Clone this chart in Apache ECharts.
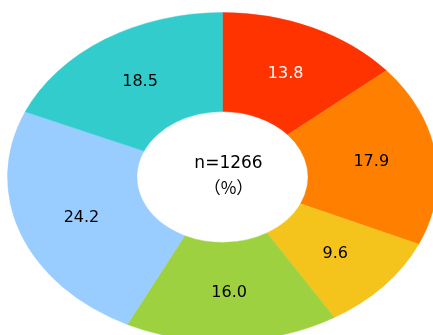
<!DOCTYPE html>
<html>
<head>
    <meta charset="UTF-8">
    <title></title>
    <script type="text/javascript" src="https://cdn.jsdelivr.net/npm/echarts@6/dist/echarts.min.js"></script>
    <style type="text/css">
        html, body { margin: 0; padding: 0; background: #fff; }
        #donut_chart { width: 433px; height: 335px; }
    </style>
</head>
<body>
<div id="donut_chart"></div>

<script type="text/javascript">
    // 回答の割合 (%)
    var categories = ['A', 'B', 'C', 'D', 'E', 'F'];
    var values = [13.8, 17.9, 9.6, 16.0, 24.2, 18.5];
    var colors = ['#FF3300', '#FF8000', '#F5C41C', '#9DD13F', '#99CCFF', '#33CCCC'];
    var labelColors = ['#fff', '#000', '#000', '#000', '#000', '#000'];
    var centerLines = ['n=1266', '（%）'];

    var total = 0;
    for (var i = 0; i < values.length; i++) total += values[i];

    var cx = 222.5, cy = 177;       // 楕円の中心
    var rOuter = 215, rInner = 85.5; // 横方向の半径
    var squash = 0.765;              // 縦横比
    var font = '16px "DejaVu Sans", "Noto Sans CJK JP", sans-serif';
    var centerFonts = [
        '17px "DejaVu Sans", "Noto Sans CJK JP", sans-serif',
        '17px "Noto Sans CJK TC", "Noto Sans CJK JP", sans-serif'
    ];

    var chart = echarts.init(document.getElementById('donut_chart'));

    chart.setOption({
        animation: false,
        graphic: [{
            type: 'group',
            z: 100,
            children: centerLines.map(function (t, k) {
                return {
                    type: 'text',
                    x: 228.5,
                    y: 164 + k * 24,
                    style: {
                        text: t,
                        fill: '#000',
                        font: centerFonts[k],
                        align: 'center', verticalAlign: 'middle',
                        textAlign: 'center', textVerticalAlign: 'middle'
                    }
                };
            })
        }],
        series: [{
            type: 'custom',
            coordinateSystem: 'none',
            data: values.map(function (v, i) { return { name: categories[i], value: v }; }),
            renderItem: function (params, api) {
                var idx = params.dataIndex;
                var before = 0;
                for (var j = 0; j < idx; j++) before += values[j];
                var a0 = -Math.PI / 2 + 2 * Math.PI * before / total;
                var a1 = -Math.PI / 2 + 2 * Math.PI * (before + values[idx]) / total;
                var am = (a0 + a1) / 2;
                var rm = (rOuter + rInner) / 2;
                return {
                    type: 'group',
                    children: [{
                        type: 'group',
                        scaleY: squash,
                        originX: cx,
                        originY: cy,
                        children: [{
                            type: 'sector',
                            shape: {
                                cx: cx, cy: cy, r0: rInner, r: rOuter,
                                startAngle: a0, endAngle: a1, clockwise: true
                            },
                            style: { fill: colors[idx], stroke: colors[idx], lineWidth: 0.5 }
                        }]
                    }, {
                        type: 'text',
                        x: cx + rm * Math.cos(am),
                        y: cy + 1 + rm * squash * Math.sin(am),
                        z2: 10,
                        style: {
                            text: values[idx].toFixed(1),
                            fill: labelColors[idx],
                            font: font,
                            align: 'center', verticalAlign: 'middle',
                            textAlign: 'center', textVerticalAlign: 'middle'
                        }
                    }]
                };
            }
        }]
    });
</script>
</body>
</html>
